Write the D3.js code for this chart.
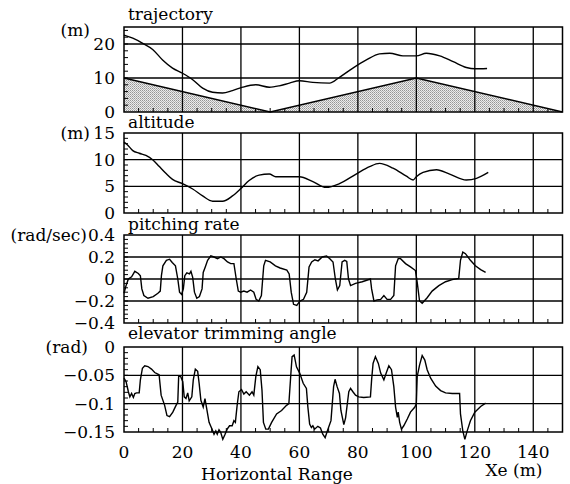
<!DOCTYPE html>
<html>
<head>
    <meta charset="utf-8">
    <title>Flight records</title>
    <script src="https://d3js.org/d3.v7.min.js"></script>
    <style>
        body { margin: 0; background: #fff; }
        text { font-family: "DejaVu Serif", serif; font-size: 17px; fill: #000; }
        .grid line { stroke: #000; stroke-width: 1.3px; }
        .frame { fill: none; stroke: #000; stroke-width: 1.5px; }
        .minor line { stroke: #000; stroke-width: 1px; }
        .curve { fill: none; stroke: #000; stroke-width: 1.4px; }
    </style>
</head>
<body>
<script>
// horizontal range ticks
const xTicks = [0, 20, 40, 60, 80, 100, 120, 140];

// trajectory (m)
const trajX = [0, 3, 6.4, 9.8, 13.2, 16.6, 20, 23.5, 26.9, 30.3, 33.7, 37.1, 40.6, 45.1, 49.7, 53.1, 56.6, 60, 64.6, 70.3,
    73.7, 78.3, 82.9, 87.4, 90.9, 95.4, 100, 103.4, 108, 112.6, 117.1, 120, 124.2];
const trajY = [22.6, 21.7, 20.2, 18.4, 15.3, 12.9, 11.4, 9.5, 7.0, 5.8, 5.6, 6.3, 7.3, 8.0, 7.3, 7.7, 8.5, 9.2, 8.7, 8.5,
    10.2, 12.9, 15.3, 17.1, 17.3, 16.5, 16.5, 17.3, 16.5, 14.8, 13.1, 12.7, 12.8];
const groundX = [0, 50, 100, 150];
const groundY = [10, 0, 10, 0];

// altitude (m)
const altX = [0, 1.3, 3, 5.2, 7.5, 9.8, 12.1, 14.4, 16.6, 20, 23.5, 26.9, 30.3, 33.7, 37.1, 40, 42.8, 46.2, 49.7, 51.9,
    56.5, 60, 64.6, 69.1, 73.7, 79.4, 84, 87.4, 92, 96.6, 98.9, 100, 102.3, 106.9, 111.4, 117.1, 120.6, 124.6];
const altY = [13.3, 12.7, 11.7, 11.2, 10.8, 10.0, 8.7, 7.4, 6.3, 5.5, 4.5, 3.2, 2.2, 2.2, 3.2, 4.6, 6.1, 7.1, 7.3, 6.8,
    6.8, 6.8, 5.9, 4.8, 5.5, 7.3, 8.7, 9.3, 8.4, 6.9, 6.2, 6.8, 7.6, 8.1, 7.3, 6.2, 6.5, 7.6];

// pitching rate (rad/sec)
const pitchX = [0, 0.7, 1.5, 2.6, 3.7, 4.9, 5.6, 6.1, 6.8, 8.2, 10, 11.6, 12.4, 12.8, 13.3, 14.5, 15.6, 16.5, 17.6, 18.4,
    19, 19.7, 20.3, 20.8, 21.5, 22.4, 22.9, 23.5, 24.1, 24.9, 25.8, 26.7, 27.1, 27.8, 28.6, 29.7, 30.8, 32, 33.1, 34.2,
    35.4, 36.5, 37.6, 38.4, 39.1, 39.9, 41, 42.1, 43.3, 44.4, 45.2, 46.1, 47, 47.8, 48.4, 50, 51.8, 53.4, 55.7, 56.5,
    57.2, 58, 59.1, 60.2, 61.4, 62.5, 63.3, 64.2, 65.3, 66.4, 67.8, 69.3, 70.4, 71.5, 72.3, 73, 73.8, 74.6, 75.5, 76.2,
    76.8, 77.5, 79.2, 81.5, 84.3, 84.7, 85.5, 86.6, 87.8, 88.9, 90, 91.2, 92.3, 92.9, 93.8, 94.6, 96.3, 98, 99.7, 100.3,
    101.1, 102, 103.7, 105.4, 107.7, 110, 112.3, 114.5, 115.1, 115.9, 116.8, 118.5, 120.2, 122, 123.7];
const pitchY = [-0.13, -0.06, 0.0, 0.02, 0.07, 0.05, 0.03, -0.09, -0.15, -0.175, -0.16, -0.13, -0.11, 0.03, 0.12, 0.17, 0.18, 0.15, 0.12, 0.0,
    -0.12, -0.14, -0.09, 0.03, 0.055, 0.046, 0.07, 0.015, -0.12, -0.175, -0.16, -0.09, 0.06, 0.11, 0.17, 0.21, 0.2, 0.185, 0.2, 0.185,
    0.155, 0.14, 0.14, 0.0, -0.11, -0.12, -0.11, -0.12, -0.1, -0.12, -0.185, -0.2, -0.15, 0.12, 0.17, 0.155, 0.12, 0.1, 0.08, 0.046,
    -0.12, -0.23, -0.24, -0.2, -0.185, -0.12, 0.11, 0.155, 0.175, 0.165, 0.2, 0.21, 0.185, 0.155, 0.0, -0.1, -0.06, 0.155, 0.17, 0.16,
    0.0, -0.06, -0.04, -0.025, 0.0, -0.09, -0.2, -0.19, -0.185, -0.15, -0.185, -0.185, -0.15, 0.12, 0.185, 0.185, 0.14, 0.11, 0.077, -0.03,
    -0.2, -0.22, -0.17, -0.11, -0.06, -0.025, -0.006, 0.006, 0.17, 0.245, 0.23, 0.17, 0.12, 0.085, 0.06];

// elevator trimming angle (rad)
const elevX = [0, 0.7, 1.5, 2, 2.6, 3.2, 3.7, 4.3, 5.2, 5.6, 6.3, 7.1, 8.2, 9.4, 10.5, 12, 12.7, 13.9, 14.7, 15.6,
    16.7, 17.8, 18.4, 18.7, 19.3, 20.1, 20.6, 21.2, 21.8, 22.3, 23.2, 23.7, 24.4, 25.2, 25.7, 26.3, 27.1, 27.7, 28.2, 29.1,
    30.2, 30.8, 31.4, 31.9, 32.5, 33.1, 33.8, 34.5, 35.3, 36.1, 37, 37.6, 38.1, 38.7, 39.3, 40.2, 41, 41.8, 42.9, 43.8,
    44.4, 45.1, 45.8, 46.6, 47.2, 47.7, 48.5, 49.4, 50.5, 52.2, 53.9, 55.6, 56.4, 57.1, 57.5, 58.2, 59, 60.1, 61.3, 62.4,
    62.9, 63.5, 64.1, 64.6, 65.2, 66.3, 67.2, 68, 68.8, 69.7, 70.8, 71.7, 72.2, 72.9, 73.7, 74.2, 75.2, 75.8, 76.9, 77.5,
    78.3, 79.2, 80.3, 82, 84.3, 84.7, 85.2, 86, 87, 87.8, 88.9, 89.7, 90.6, 91.5, 92.3, 92.9, 93.5, 93.8, 94.3, 94.9,
    95.7, 96.9, 98, 99.5, 100, 100.3, 101.1, 102, 102.9, 103.7, 104.9, 106.6, 108.3, 110, 112.3, 114.8, 115.1, 115.9, 116.6, 117.4,
    118.5, 120, 122, 123.7];
const elevY = [-0.055, -0.061, -0.079, -0.088, -0.082, -0.089, -0.082, -0.081, -0.081, -0.058, -0.0375, -0.033, -0.0345, -0.039, -0.045, -0.049, -0.085, -0.103, -0.121, -0.123,
    -0.115, -0.103, -0.097, -0.052, -0.051, -0.061, -0.088, -0.091, -0.081, -0.095, -0.088, -0.058, -0.039, -0.043, -0.064, -0.094, -0.106, -0.091, -0.106, -0.133,
    -0.146, -0.154, -0.148, -0.154, -0.146, -0.151, -0.163, -0.155, -0.145, -0.139, -0.139, -0.13, -0.133, -0.103, -0.079, -0.075, -0.083, -0.079, -0.085, -0.079,
    -0.085, -0.052, -0.0345, -0.04, -0.076, -0.133, -0.145, -0.145, -0.133, -0.118, -0.112, -0.103, -0.1, -0.046, -0.017, -0.014, -0.035, -0.046, -0.064, -0.073,
    -0.106, -0.136, -0.142, -0.139, -0.145, -0.14, -0.143, -0.154, -0.16, -0.146, -0.13, -0.07, -0.057, -0.07, -0.082, -0.112, -0.137, -0.125, -0.079, -0.073,
    -0.079, -0.085, -0.088, -0.089, -0.088, -0.058, -0.029, -0.017, -0.029, -0.046, -0.058, -0.046, -0.033, -0.04, -0.07, -0.106, -0.124, -0.115, -0.133, -0.145,
    -0.139, -0.127, -0.115, -0.106, -0.1, -0.052, -0.032, -0.015, -0.023, -0.04, -0.055, -0.069, -0.077, -0.081, -0.082, -0.082, -0.118, -0.148, -0.163, -0.148,
    -0.13, -0.115, -0.105, -0.099];

const svg = d3.select("body").append("svg")
    .attr("width", 570)
    .attr("height", 484);

// stipple fill for the ground profile
const pat = svg.append("defs").append("pattern")
    .attr("id", "dots")
    .attr("patternUnits", "userSpaceOnUse")
    .attr("width", 2).attr("height", 2);
pat.append("rect").attr("width", 2).attr("height", 2).attr("fill", "#ececec");
pat.append("rect").attr("width", 1).attr("height", 1).attr("fill", "#969696");
pat.append("rect").attr("x", 1).attr("y", 1).attr("width", 1).attr("height", 1).attr("fill", "#b4b4b4");

const x = d3.scaleLinear().domain([0, 150]).range([124, 562.5]);

const panels = [
    {title: "trajectory", unit: "(m)", unitX: 90, top: 27, bottom: 112, domain: [0, 25],
        ticks: [0, 10, 20], labels: ["0", "10", "20"], minor: 2, smooth: true,
        xs: trajX, ys: trajY, titleY: 20},
    {title: "altitude", unit: "(m)", unitX: 90, top: 133, bottom: 213, domain: [0, 15],
        ticks: [0, 5, 10, 15], labels: ["0", "5", "10", "15"], minor: 1, smooth: true,
        xs: altX, ys: altY, titleY: 128},
    {title: "pitching rate", unit: "(rad/sec)", unitX: 87, top: 235, bottom: 323, domain: [-0.4, 0.4],
        ticks: [-0.4, -0.2, 0, 0.2, 0.4], labels: ["\u22120.4", "\u22120.2", "0", "0.2", "0.4"], minor: 0.04, smooth: false,
        xs: pitchX, ys: pitchY, titleY: 230},
    {title: "elevator trimming angle", unit: "(rad)", unitX: 88, top: 347, bottom: 432, domain: [-0.15, 0],
        ticks: [-0.15, -0.1, -0.05, 0], labels: ["\u22120.15", "\u22120.1", "\u22120.05", "0"], minor: 0.01, smooth: false,
        xs: elevX, ys: elevY, titleY: 339}
];

panels.forEach((p, i) => {
    const y = d3.scaleLinear().domain(p.domain).range([p.bottom, p.top]);
    const g = svg.append("g");

    if (i === 0) {
        const ground = d3.range(groundX.length).map(k => [groundX[k], groundY[k]]);
        g.append("path")
            .attr("d", d3.area().x(d => x(d[0])).y0(y(0)).y1(d => y(d[1]))(ground))
            .attr("fill", "url(#dots)");
        g.append("path")
            .attr("class", "curve")
            .attr("d", d3.line().x(d => x(d[0])).y(d => y(d[1]))(ground));
    }

    // grid
    const grid = g.append("g").attr("class", "grid");
    grid.selectAll(".v").data(xTicks.filter(t => t > 0))
        .join("line")
        .attr("x1", d => x(d)).attr("x2", d => x(d))
        .attr("y1", p.top).attr("y2", p.bottom);
    grid.selectAll(".h").data(p.ticks.filter(t => t !== p.domain[0] && t !== p.domain[1]))
        .join("line")
        .attr("x1", x(0)).attr("x2", x(150))
        .attr("y1", d => y(d)).attr("y2", d => y(d));

    // small inner ticks on the left and bottom edges
    const minor = g.append("g").attr("class", "minor");
    const nMinor = Math.round((p.domain[1] - p.domain[0]) / p.minor);
    minor.selectAll(".ly").data(d3.range(1, nMinor).map(k => p.domain[0] + k * p.minor))
        .join("line")
        .attr("x1", x(0)).attr("x2", x(0) + 4)
        .attr("y1", d => y(d)).attr("y2", d => y(d));
    minor.selectAll(".bx").data(d3.range(5, 150, 5).filter(v => v % 20 !== 0))
        .join("line")
        .attr("x1", d => x(d)).attr("x2", d => x(d))
        .attr("y1", p.bottom).attr("y2", p.bottom - 4);

    g.append("rect")
        .attr("class", "frame")
        .attr("x", x(0)).attr("y", p.top)
        .attr("width", x(150) - x(0)).attr("height", p.bottom - p.top);

    // data curve
    const pts = d3.range(p.xs.length).map(k => [p.xs[k], p.ys[k]]);
    g.append("path")
        .attr("class", "curve")
        .attr("d", d3.line()
            .curve(p.smooth ? d3.curveMonotoneX : d3.curveLinear)
            .x(d => x(d[0])).y(d => y(d[1]))(pts));

    // tick labels
    g.selectAll(".tl").data(p.ticks)
        .join("text")
        .attr("x", 115)
        .attr("y", d => y(d))
        .attr("dy", "0.35em")
        .attr("text-anchor", "end")
        .text((d, k) => p.labels[k]);

    g.append("text")
        .attr("x", p.unitX)
        .attr("y", i === 0 ? 30 : y(p.domain[1]))
        .attr("dy", "0.35em")
        .attr("text-anchor", "end")
        .text(p.unit);

    g.append("text")
        .attr("x", 128)
        .attr("y", p.titleY)
        .text(p.title);
});

// bottom axis labels
svg.append("g").selectAll("text").data(xTicks)
    .join("text")
    .attr("x", d => x(d))
    .attr("y", 458)
    .attr("text-anchor", "middle")
    .text(d => d);

svg.append("text")
    .attr("x", 277)
    .attr("y", 480)
    .attr("text-anchor", "middle")
    .text("Horizontal Range");

svg.append("text")
    .attr("x", 514)
    .attr("y", 476)
    .attr("text-anchor", "middle")
    .text("Xe (m)");
</script>
</body>
</html>
